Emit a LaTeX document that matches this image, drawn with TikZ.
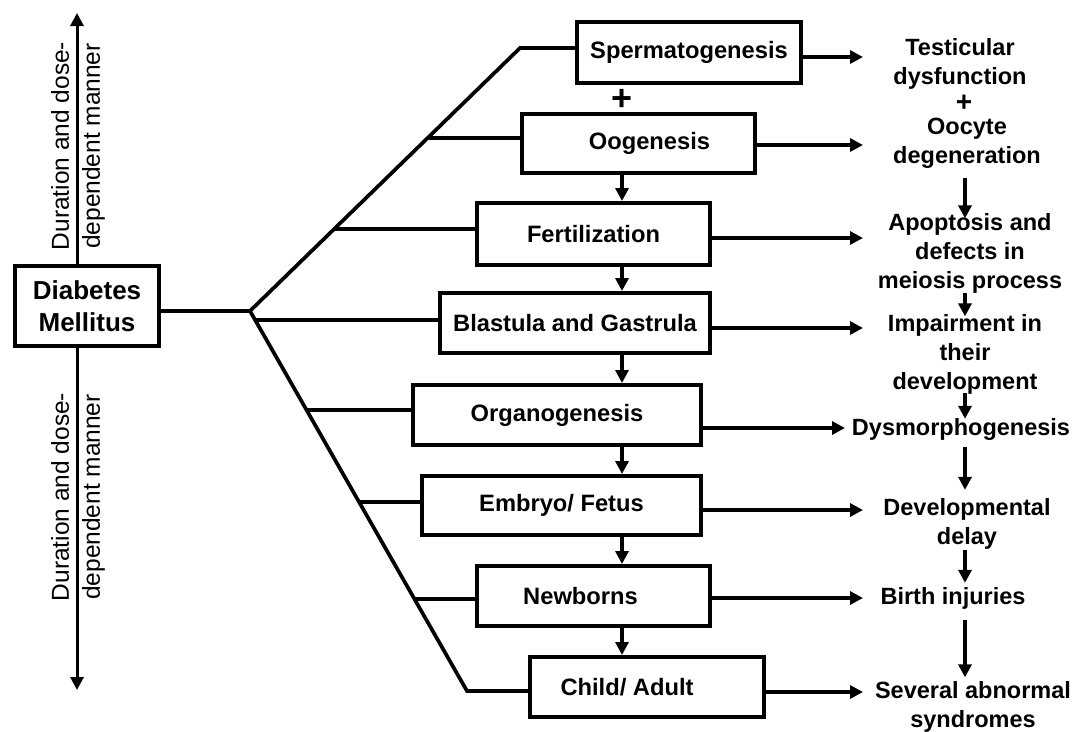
\documentclass[tikz,border=0pt]{standalone}
\usepackage{fontspec}
\setmainfont{Liberation Sans}
\usetikzlibrary{arrows.meta,calc}
\begin{document}
\begin{tikzpicture}[x=1pt,y=-1pt,
  box/.style={draw, line width=4pt, inner sep=0pt, align=center,
    font=\bfseries\fontsize{23.7}{29}\selectfont},
  res/.style={inner sep=0pt, align=center,
    font=\bfseries\fontsize{23.5}{29}\selectfont},
  conn/.style={line width=3.7pt},
  arr/.style={line width=3.7pt, -{Triangle[length=13pt,width=13pt]}},
  side/.style={inner sep=0pt, rotate=90, align=center,
    font=\fontsize{24.5}{31}\selectfont},
  plus/.style={inner sep=0pt, font=\bfseries\fontsize{36}{36}\selectfont}]
\useasboundingbox (0,0) rectangle (1076,731);
\fill[white] (0,0) rectangle (1076,731);

% main node
\node[box, minimum width=144pt, minimum height=80pt,
      font=\bfseries\fontsize{26}{32}\selectfont] (dm) at (87,306) {Diabetes\\Mellitus};

% stage boxes
\node[box, minimum width=224pt, minimum height=61pt] (sperm) at (689,52.5) {Spermatogenesis};
\node[box, minimum width=233pt, minimum height=59pt] (oog) at (638.5,143.5) {\hspace*{22pt}Oogenesis};
\node[box, minimum width=233pt, minimum height=62pt] (fert) at (593.5,234) {Fertilization};
\node[box, minimum width=270pt, minimum height=60pt] (blast) at (575,323) {Blastula and Gastrula};
\node[box, minimum width=288pt, minimum height=60pt] (organ) at (557,415) {Organogenesis};
\node[box, minimum width=279pt, minimum height=59pt] (embryo) at (561.5,505.5) {Embryo/ Fetus};
\node[box, minimum width=233pt, minimum height=60pt] (newborn) at (593.5,596) {\hspace*{-26pt}Newborns};
\node[box, minimum width=234pt, minimum height=60pt] (child) at (647,687) {\hspace*{-40pt}Child/ Adult};

% side labels and vertical arrow
\node[side] (durUp) at (78,146) {Duration and dose-\\dependent manner};
\node[side] (durDn) at (78,497) {Duration and dose-\\dependent manner};
\coordinate (vt) at (77,13);
\coordinate (vb) at (77,690);
\draw[arr, line width=3pt] (vt |- dm.north) -- (vt);
\draw[arr, line width=3pt] (vb |- dm.south) -- (vb);

% fork
\coordinate (fork) at (250,311);
\coordinate (top) at (520,48);
\coordinate (bot) at (467,691);
\draw[conn] (fork -| dm.east) -- (fork);
\draw[conn] (fork) -- (top) -- (top -| sperm.west);
\draw[conn] (fork) -- (bot) -- (bot -| child.west);
\coordinate (b2) at ($(fork)!0.658!(top)$);
\coordinate (b3) at ($(fork)!0.312!(top)$);
\coordinate (b4) at ($(fork)!0.024!(bot)$);
\coordinate (b5) at ($(fork)!0.2605!(bot)$);
\coordinate (b6) at ($(fork)!0.5026!(bot)$);
\coordinate (b7) at ($(fork)!0.758!(bot)$);
\draw[conn] (b2) -- (b2 -| oog.west);
\draw[conn] (b3) -- (b3 -| fert.west);
\draw[conn] (b4) -- (b4 -| blast.west);
\draw[conn] (b5) -- (b5 -| organ.west);
\draw[conn] (b6) -- (b6 -| embryo.west);
\draw[conn] (b7) -- (b7 -| newborn.west);

% sequence between stages
\coordinate (col) at (622,0);
\node[plus] (plusL) at (622,100) {+};
\draw[arr] (oog.south -| col) -- (fert.north -| col);
\draw[arr] (fert.south -| col) -- (blast.north -| col);
\draw[arr] (blast.south -| col) -- (organ.north -| col);
\draw[arr] (organ.south -| col) -- (embryo.north -| col);
\draw[arr] (embryo.south -| col) -- (newborn.north -| col);
\draw[arr] (newborn.south -| col) -- (child.north -| col);

% results
\node[res] (r1) at (960,63.5) {Testicular\\dysfunction};
\node[plus, font=\bfseries\fontsize{28}{28}\selectfont] (plusR) at (964,103) {+};
\node[res] (r2) at (967,143.5) {Oocyte\\degeneration};
\node[res] (r3) at (970,253.5) {Apoptosis and\\defects in\\meiosis process};
\node[res] (r4) at (965,354.5) {Impairment in\\their\\development};
\node[res] (r5) at (961,429) {Dysmorphogenesis};
\node[res] (r6) at (967,523.5) {Developmental\\delay};
\node[res] (r7) at (953,598) {Birth injuries};
\node[res] (r8) at (973,707) {Several abnormal\\syndromes};

% arrows to results
\coordinate (e1) at (863,57);
\coordinate (e2) at (863,145);
\coordinate (e3) at (863,238);
\coordinate (e4) at (863,328);
\coordinate (e5) at (845,428);
\coordinate (e6) at (863,510);
\coordinate (e7) at (863,598);
\coordinate (e8) at (863,692);
\draw[arr] (sperm.east |- e1) -- (e1);
\draw[arr] (oog.east |- e2) -- (e2);
\draw[arr] (fert.east |- e3) -- (e3);
\draw[arr] (blast.east |- e4) -- (e4);
\draw[arr] (organ.east |- e5) -- (e5);
\draw[arr] (embryo.east |- e6) -- (e6);
\draw[arr] (newborn.east |- e7) -- (e7);
\draw[arr] (child.east |- e8) -- (e8);

% chain of results
\coordinate (rc) at (965,0);
\draw[arr, shorten <=9pt, shorten >=-5pt] (r2.south -| rc) -- (r3.north -| rc);
\draw[arr, shorten <=-1pt, shorten >=-2pt] (r3.south -| rc) -- (r4.north -| rc);
\draw[arr, shorten <=-2pt, shorten >=-1pt] (r4.south -| rc) -- (r5.north -| rc);
\draw[arr, shorten <=7pt, shorten >=8pt] (r5.south -| rc) -- (r6.north -| rc);
\draw[arr, shorten <=1pt, shorten >=4pt] (r6.south -| rc) -- (r7.north -| rc);
\draw[arr, shorten <=11pt, shorten >=4pt] (r7.south -| rc) -- (r8.north -| rc);
\end{tikzpicture}
\end{document}
